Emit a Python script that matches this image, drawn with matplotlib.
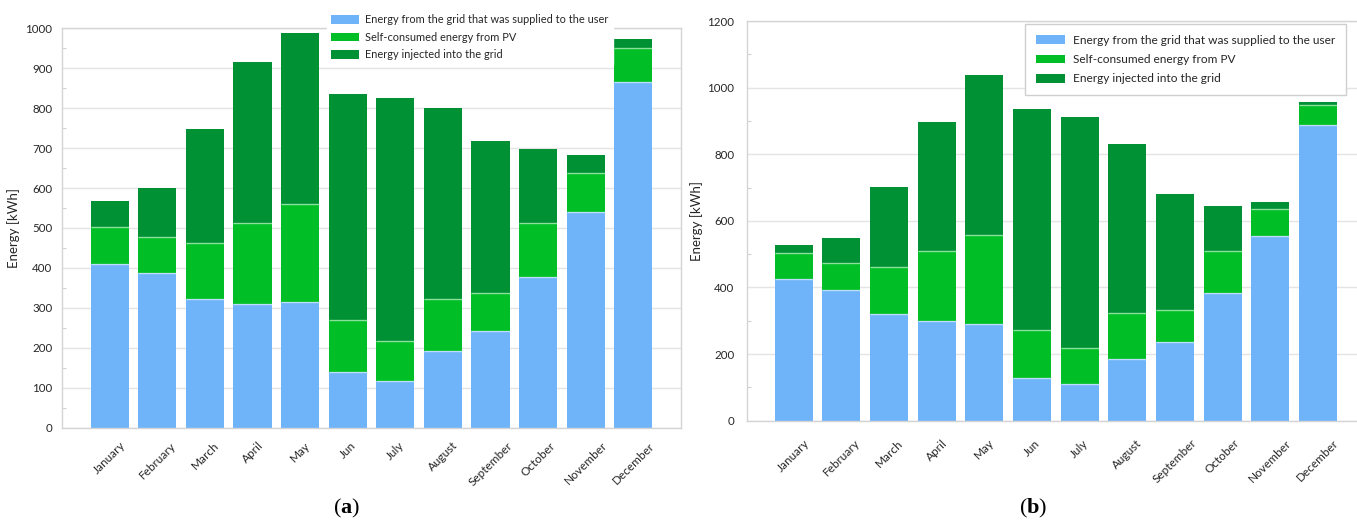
import matplotlib
matplotlib.use("Agg")
import matplotlib.pyplot as plt
import numpy as np
from matplotlib.ticker import MultipleLocator

months = ["January", "February", "March", "April", "May", "Jun", "July",
          "August", "September", "October", "November", "December"]
series_labels = ["Energy from the grid that was supplied to the user",
                 "Self-consumed energy from PV",
                 "Energy injected into the grid"]

# panel (a) – segment values in kWh
grid_a = [411, 388, 321, 310, 314, 140, 116, 192, 242, 378, 539, 866]
self_a = [91, 89, 141, 202, 247, 130, 102, 130, 95, 134, 98, 85]
inj_a = [65, 124, 286, 403, 427, 565, 609, 478, 380, 187, 45, 22]

# panel (b) – segment values in kWh
grid_b = [426, 392, 319, 298, 290, 129, 109, 184, 237, 383, 556, 888]
self_b = [77, 82, 141, 210, 268, 142, 108, 138, 96, 125, 79, 60]
inj_b = [23, 75, 243, 390, 479, 664, 694, 509, 347, 136, 23, 8]

BLUE = "#6fb4f9"
GREEN = "#00bf26"
DKGREEN = "#009134"
SPINE = "#d4d4d4"
GRID = "#e4e4e4"
TXT = "#262626"

plt.rcParams["font.family"] = ["Lato", "DejaVu Sans"]
plt.rcParams["mathtext.fontset"] = "custom"
plt.rcParams["mathtext.rm"] = "Liberation Serif"
plt.rcParams["mathtext.bf"] = "Liberation Serif:bold"

W, H = 1357, 520
fig = plt.figure(figsize=(W / 100, H / 100), dpi=100)


def px_axes(left, top, right, bottom):
    return fig.add_axes([left / W, 1 - bottom / H, (right - left) / W, (bottom - top) / H])


def draw(ax, grid, selfc, inj, ymax, major, minor, xlim, labelpad, ypad, xpad, show_right):
    x = np.arange(len(months))
    w = 0.8
    c1 = np.array(grid, dtype=float)
    c2 = c1 + np.array(selfc, dtype=float)
    h1 = ax.bar(x, grid, w, color=BLUE, linewidth=0, label=series_labels[0], zorder=2)
    h2 = ax.bar(x, selfc, w, bottom=c1, color=GREEN, linewidth=0, label=series_labels[1], zorder=2)
    h3 = ax.bar(x, inj, w, bottom=c2, color=DKGREEN, linewidth=0, label=series_labels[2], zorder=2)
    # light separator lines between stacked segments
    ax.hlines(c1, x - w / 2, x + w / 2, colors=(1, 1, 1, 0.55), linewidth=1.0, zorder=3)
    ax.hlines(c2, x - w / 2, x + w / 2, colors=(1, 1, 1, 0.55), linewidth=1.0, zorder=3)

    ax.set_xlim(*xlim)
    ax.set_ylim(0, ymax)
    ax.yaxis.set_major_locator(MultipleLocator(major))
    ax.yaxis.set_minor_locator(MultipleLocator(minor))
    ax.grid(axis="y", which="major", color=GRID, linewidth=1.0, zorder=0)
    ax.set_axisbelow(True)
    ax.tick_params(axis="y", which="major", length=0, pad=ypad, labelsize=8.3, labelcolor=TXT)
    ax.tick_params(axis="y", which="minor", direction="in", length=3, width=0.8, color="#d0d0d0")
    ax.set_xticks(x)
    ax.set_xticklabels(months, rotation=45, ha="center", va="top", fontsize=8.5, color=TXT)
    ax.tick_params(axis="x", length=0, pad=xpad)
    for s in ["left", "bottom", "top", "right"]:
        ax.spines[s].set_color(SPINE)
        ax.spines[s].set_linewidth(1.0)
    ax.spines["right"].set_visible(show_right)
    ax.set_ylabel("Energy [kWh]", fontsize=9.5, color=TXT, labelpad=labelpad)
    return [h1, h2, h3]


ax_a = px_axes(62, 28.5, 681, 427.5)
handles_a = draw(ax_a, grid_a, self_a, inj_a, 1000, 100, 50, (-1.0, 12.0), 4, 7, 9, True)

ax_b = px_axes(747, 21, 1357, 420.7)
handles_b = draw(ax_b, grid_b, self_b, inj_b, 1200, 200, 100, (-0.98, 11.82), 3, 9, 12, False)

leg_a = ax_a.legend(handles=handles_a, loc="upper left",
                    bbox_to_anchor=(327 / W, 1 - 10 / H), bbox_transform=fig.transFigure,
                    borderaxespad=0, borderpad=0.4, fontsize=7.9, frameon=True,
                    fancybox=False, framealpha=1, facecolor="white", edgecolor="white",
                    handlelength=2.5, handleheight=0.8, handletextpad=0.6,
                    labelspacing=0.58)
for t in leg_a.get_texts():
    t.set_color(TXT)

leg_b = ax_b.legend(handles=handles_b, loc="upper left",
                    bbox_to_anchor=(1025 / W, 1 - 24 / H), bbox_transform=fig.transFigure,
                    borderaxespad=0, borderpad=0.9, fontsize=8.6, frameon=True,
                    fancybox=False, framealpha=1, facecolor="white", edgecolor="#cfcfcf",
                    handlelength=2.45, handleheight=0.75, handletextpad=0.65,
                    labelspacing=0.7)
leg_b.get_frame().set_linewidth(1.0)
for t in leg_b.get_texts():
    t.set_color(TXT)

fig.text(347 / W, 1 - 508 / H, r"($\mathbf{a}$)", fontsize=16, family="Liberation Serif",
         ha="center", va="center", color="black")
fig.text(1033 / W, 1 - 508 / H, r"($\mathbf{b}$)", fontsize=16, family="Liberation Serif",
         ha="center", va="center", color="black")

fig.savefig("out.png", dpi=100, facecolor="white")
